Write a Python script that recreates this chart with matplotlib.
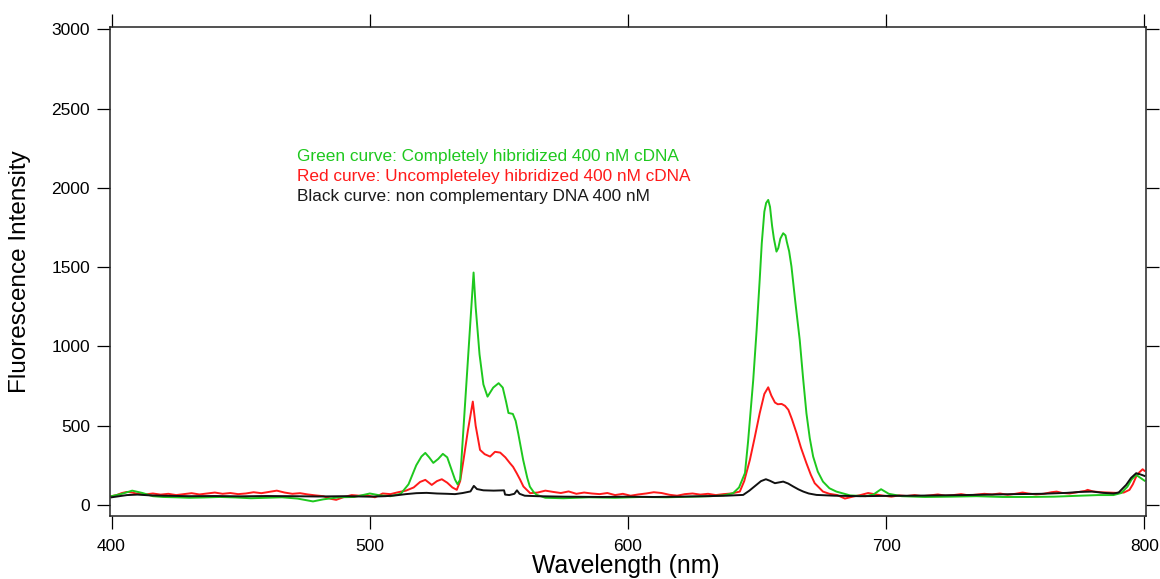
import matplotlib
matplotlib.use("Agg")
import matplotlib.pyplot as plt

plt.rcParams['font.family'] = ['Liberation Sans', 'DejaVu Sans']

# ---- data ----
green_wl = [400, 404, 408, 412, 416, 420, 425, 430, 436, 442, 448, 454, 460, 466, 472, 478, 482, 488,
            494, 500, 504, 508, 512, 515, 518, 520, 521.5, 523, 524.6, 526.5, 528.3, 530, 531.5, 533,
            534, 535, 540.2, 541, 542.5, 544, 545.6, 547.8, 549.9, 551.5, 552.8, 553.7, 555.4, 556.5,
            557.5, 559.4, 561, 562, 563.5, 564.7, 568, 575, 585, 595, 605, 615, 625, 632, 637, 640.7,
            643, 645.3, 646.5, 648.5, 649.8, 651, 651.8, 652.8, 653.5, 654.3, 655, 655.8, 656.5, 657.5,
            658.2, 659, 660.1, 661, 661.5, 662.4, 663.3, 664.8, 666.5, 667.8, 669.1, 670.4, 671.7,
            673.5, 675.5, 678, 680.7, 686, 692, 695, 698, 701, 706, 715, 725, 735, 745, 755, 765, 775,
            782, 788, 791, 793.4, 795, 796.8, 798.5, 800]
green_int = [55, 70, 90, 75, 55, 50, 48, 45, 47, 50, 47, 42, 45, 48, 40, 22, 35, 48,
             50, 72, 60, 55, 70, 130, 250, 305, 328, 300, 265, 290, 322, 300, 230, 160,
             130, 160, 1466, 1250, 950, 760, 683, 740, 768, 740, 650, 580, 574, 530,
             450, 284, 170, 115, 80, 63, 45, 42, 48, 45, 50, 48, 52, 55, 60, 74,
             110, 201, 400, 789, 1100, 1420, 1650, 1850, 1905, 1924, 1880, 1760, 1680, 1598,
             1620, 1680, 1714, 1700, 1660, 1600, 1504, 1280, 1041, 800, 578, 420, 305,
             210, 147, 105, 84, 60, 55, 65, 99, 70, 55, 50, 52, 55, 50, 50, 52, 58,
             62, 62, 75, 115, 160, 189, 170, 153]

red_wl = [400, 402, 404, 406, 408, 410, 413, 416, 419, 422, 425, 428, 431, 434, 437, 440, 443, 446,
          449, 452, 455, 458, 461, 464, 467, 470, 473, 476, 479, 482, 485, 487, 490, 493, 496, 499,
          502, 505, 508, 511, 514, 517, 519.5, 521.5, 524, 526, 527.9, 530, 532, 533.7, 535, 536.3,
          538, 539.9, 541, 542.7, 544.5, 546.6, 548.5, 550.5, 552.5, 554.3, 555.5, 556.9, 558.2,
          559.5, 562.1, 565, 568, 571, 574, 577, 580, 583, 586, 589, 592, 595, 598, 601, 604, 607,
          610, 613, 616, 619, 622, 625, 628, 631, 634, 637, 640, 643.3, 645, 647.2, 649, 651, 652.8,
          654.3, 655.5, 656.9, 658, 659.5, 660.8, 662.1, 663.5, 665.3, 667, 669.1, 670.8, 672.3,
          675.5, 678, 681, 684, 687, 690, 693, 696, 699, 702, 705, 708, 711, 714, 717, 720, 723,
          726, 729, 732, 735, 738, 741, 744, 747, 750, 752.8, 755, 758, 761, 764, 766, 768, 771,
          774, 777, 778, 780, 783, 786, 789, 792, 794.2, 795.5, 796.8, 798, 799.3, 800]
red_int = [55, 62, 75, 82, 78, 70, 66, 72, 65, 70, 62, 68, 74, 66, 72, 78, 70, 75,
           68, 72, 80, 74, 82, 90, 78, 70, 74, 66, 60, 55, 38, 32, 50, 62, 58, 60,
           48, 72, 68, 80, 90, 110, 145, 158, 126, 150, 162, 140, 110, 95, 150, 284,
           470, 652, 500, 347, 320, 305, 335, 330, 300, 263, 240, 200, 160,
           116, 74, 78, 90, 82, 75, 85, 70, 78, 72, 68, 75, 62, 70, 58, 66, 72,
           80, 75, 64, 58, 68, 72, 65, 70, 62, 68, 72, 84, 150, 284, 420, 578, 700,
           742, 690, 646, 635, 637, 625, 600, 540, 452, 360, 263, 190, 137,
           84, 70, 62, 40, 52, 62, 75, 66, 58, 52, 60, 56, 62, 55, 60, 66, 58,
           62, 68, 60, 65, 70, 66, 72, 64, 70, 78, 72, 66, 70, 80, 84, 76, 72,
           80, 88, 95, 85, 80, 78, 76, 78, 95, 130, 179, 205, 225, 215]

black_wl = [400, 403, 406, 410, 415, 420, 430, 440, 450, 460, 470, 480, 490, 500, 506, 510, 514, 518,
            522, 526, 530, 533, 536, 539, 540.3, 541.5, 544, 548, 552, 552.4, 554, 556, 557, 558, 560,
            565, 575, 590, 600, 610, 620, 630, 638, 644.6, 647, 649.7, 651.5, 653.4, 655, 656.9,
            658.5, 660.1, 662, 664, 666, 667.9, 670, 673, 680, 690, 700, 710, 720, 730, 740, 750,
            760, 770, 775, 779.9, 784, 788, 790, 792.9, 794.8, 796.8, 798.5, 800]
black_int = [48, 55, 62, 65, 60, 58, 55, 56, 54, 56, 55, 53, 55, 52, 55, 60, 68, 74,
             76, 72, 70, 68, 75, 85, 120, 100, 92, 90, 92, 65, 62, 70, 92, 70, 58,
             55, 52, 50, 52, 50, 52, 55, 58, 63, 90, 126, 150, 162, 152, 137,
             142, 147, 135, 116, 98, 84, 72, 63, 58, 55, 57, 58, 60, 62, 65, 68,
             70, 76, 82, 84, 76, 72, 78, 126, 170, 200, 192, 183]

x_ticks = [400, 500, 600, 700, 800]
y_ticks = [0, 500, 1000, 1500, 2000, 2500, 3000]
annotations = ["Green curve: Completely hibridized 400 nM cDNA",
               "Red curve: Uncompleteley hibridized 400 nM cDNA",
               "Black curve: non complementary DNA 400 nM"]
annotation_colors = ["#1ec81e", "#ff1a1a", "#1a1a1a"]

# ---- figure ----
W, H = 1160, 579
fig = plt.figure(figsize=(W / 100, H / 100), dpi=100)
ax = fig.add_axes([110 / W, 63 / H, 1036 / W, 489 / H])

ax.plot(red_wl, red_int, color="#ff1a1a", lw=1.4)
ax.plot(green_wl, green_int, color="#1ec81e", lw=1.4)
ax.plot(black_wl, black_int, color="#111111", lw=1.4)

ax.set_xlim(399.4, 800.6)
ax.set_ylim(-70, 3015)
ax.set_xticks(x_ticks)
ax.set_yticks(y_ticks)
ax.tick_params(direction='out', length=9.4, width=0.9, labelsize=12.5, pad=5,
               top=True, right=True, labeltop=False, labelright=False)
ax.tick_params(axis='x', pad=7)
for s in ax.spines.values():
    s.set_linewidth(1.1)
    s.set_color('#222222')

fig.text(626 / W, (H - 573) / H, "Wavelength (nm)", fontsize=17.8,
         ha='center', va='baseline')
fig.text(20 / W, (H - 272) / H, "Fluorescence Intensity", fontsize=17.5,
         ha='center', va='center', rotation=90)

for i, (t, c) in enumerate(zip(annotations, annotation_colors)):
    fig.text(297 / W, (H - 157 - i * 19.5) / H, t,
             color=c, fontsize=12.4, va='center', ha='left')

fig.savefig("out.png", dpi=100)
